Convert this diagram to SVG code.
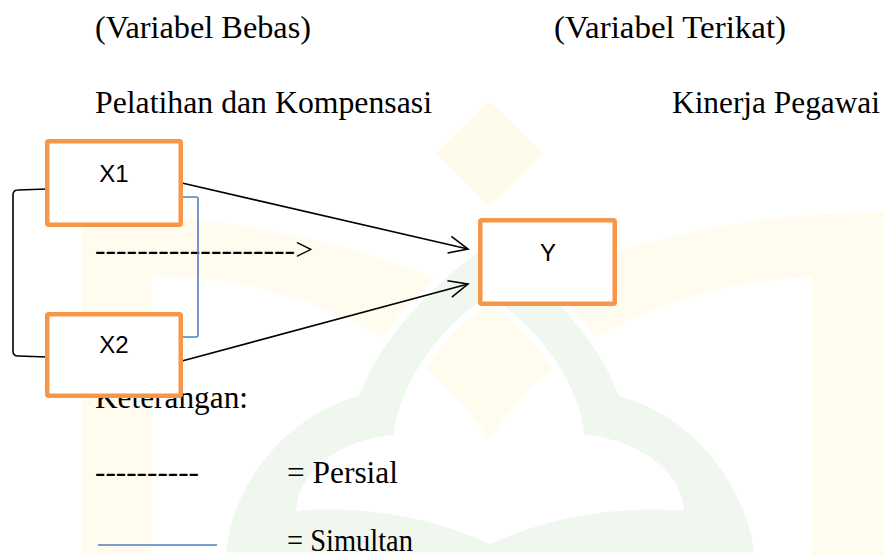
<svg xmlns="http://www.w3.org/2000/svg" width="884" height="556" viewBox="0 0 884 556">
  <defs>
    <style>
      .serif { font-family: "Liberation Serif", "Times New Roman", serif; font-size: 31px; fill: #000; }
      .sans { font-family: "Liberation Sans", Arial, sans-serif; font-size: 24px; fill: #000; text-anchor: middle; }
      .box { fill: #fff; stroke: #f79646; stroke-width: 4.5; }
      .conn { fill: none; stroke: #000; stroke-width: 1.6; }
      .simul { fill: none; stroke: #4f81bd; stroke-width: 1.6; }
    </style>
    <marker id="open" markerUnits="userSpaceOnUse" markerWidth="24" markerHeight="24" viewBox="-22 -12 24 24" refX="0" refY="0" orient="auto">
      <path d="M-19,-8.5 L0,0 L-19,8.5" fill="none" stroke="#000" stroke-width="1.6"/>
    </marker>
  </defs>
  <rect width="884" height="556" fill="#fff"/>

  <g id="watermark">
    <polygon points="489,101 543,153 489,206 436,153" fill="#fffbea"/>
    <path d="M82,556 L82,213 C230,214 380,245 489,305 C600,245 740,212 884,212 L884,556 L812,556 L812,277 C690,282 560,330 489,440 C420,330 280,276 152,276 L152,556 Z" fill="#fffcef"/>
    <path fill-rule="evenodd" fill="#f0f7ef" stroke="#fff" stroke-width="7" d="M222,556 C228,485 280,415 357,393 C375,340 430,280 489,240 C548,280 603,340 621,393 C698,415 750,485 758,556 Z M300,507 C305,470 345,442 397,438 C400,390 440,330 489,300 C538,330 578,390 581,438 C633,442 675,470 680,507 Q580,500 490,540 Q400,500 300,507 Z"/>
  </g>

  <g id="labels">
    <text class="serif" x="95" y="38" textLength="216" lengthAdjust="spacingAndGlyphs">(Variabel Bebas)</text>
    <text class="serif" x="554" y="38" textLength="232" lengthAdjust="spacingAndGlyphs">(Variabel Terikat)</text>
    <text class="serif" x="95" y="113" textLength="337" lengthAdjust="spacingAndGlyphs">Pelatihan dan Kompensasi</text>
    <text class="serif" x="672" y="113" textLength="208" lengthAdjust="spacingAndGlyphs">Kinerja Pegawai</text>
    <text class="serif" x="95" y="260" textLength="218" lengthAdjust="spacingAndGlyphs">-------------------&gt;</text>
    <text class="serif" x="95" y="408" textLength="153" lengthAdjust="spacingAndGlyphs">Keterangan:</text>
    <text class="serif" x="95" y="482" textLength="104" lengthAdjust="spacingAndGlyphs">----------</text>
    <text class="serif" x="287" y="483" textLength="111" lengthAdjust="spacingAndGlyphs">= Persial</text>
    <text class="serif" x="287" y="551" textLength="126" lengthAdjust="spacingAndGlyphs">= Simultan</text>
    <line x1="98" y1="545" x2="217" y2="545" class="simul"/>
  </g>

  <g id="connectors">
    <path class="conn" d="M47,189 L18,190 Q13,190 13,195 L13,351 Q13,356 18,356 L47,357"/>
    <path class="simul" d="M183,197 L196,197 Q198,197 198,199 L198,335 Q198,337 196,337 L183,337"/>
    <line class="conn" x1="182" y1="183" x2="468" y2="249" marker-end="url(#open)"/>
    <line class="conn" x1="182" y1="361" x2="468" y2="284" marker-end="url(#open)"/>
  </g>

  <g id="node-x1">
    <rect class="box" x="47.25" y="141.25" width="133.5" height="83.5" rx="1.5"/>
    <text class="sans" x="114" y="182">X1</text>
  </g>
  <g id="node-x2">
    <rect class="box" x="47.25" y="314.25" width="133.5" height="81.5" rx="1.5"/>
    <text class="sans" x="114" y="353">X2</text>
  </g>
  <g id="node-y">
    <rect class="box" x="480.25" y="220.25" width="134.5" height="83.5" rx="1.5"/>
    <text class="sans" x="548" y="261">Y</text>
  </g>
</svg>
